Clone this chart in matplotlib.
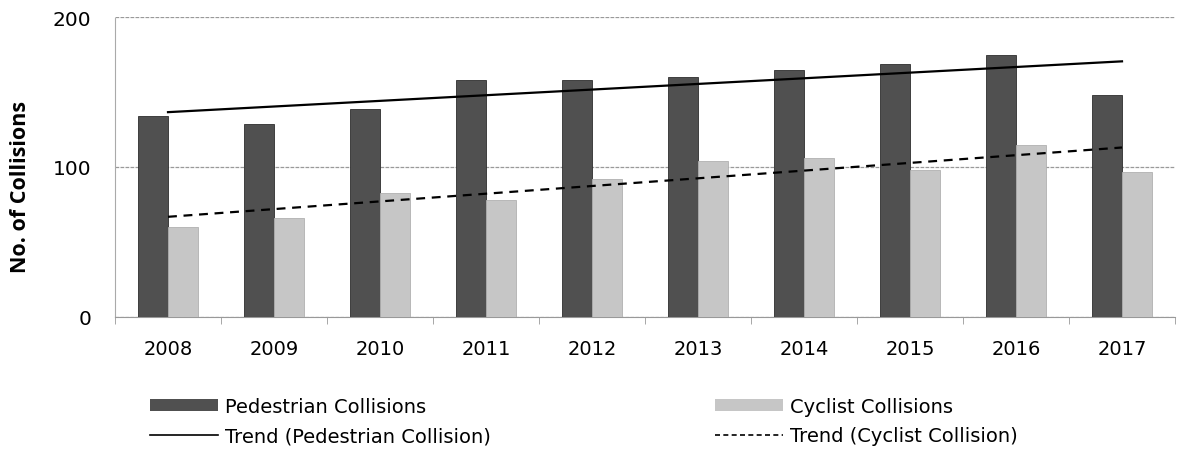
import matplotlib
matplotlib.use("Agg")
import matplotlib.pyplot as plt
import numpy as np
from matplotlib.lines import Line2D
from matplotlib.patches import Patch

years = ["2008", "2009", "2010", "2011", "2012", "2013", "2014", "2015", "2016", "2017"]
pedestrian = [134, 129, 139, 158, 158, 160, 165, 169, 175, 148]
cyclist = [60, 66, 83, 78, 92, 104, 106, 98, 115, 97]
yticks = [0, 100, 200]

plt.rcParams['font.family'] = ['DejaVu Sans']

W, H = 1179, 452
fig = plt.figure(figsize=(W / 100, H / 100), dpi=100)
ax = fig.add_axes([115 / W, 1 - 318 / H, 1060 / W, 300 / H])

x = np.arange(len(years))
w = 0.283
ped_color = "#505050"
cyc_color = "#c6c6c6"
ax.bar(x - w / 2, pedestrian, width=w, color=ped_color, edgecolor="#2e2e2e", linewidth=0.6, zorder=3)
ax.bar(x + w / 2, cyclist, width=w, color=cyc_color, edgecolor="#b0b0b0", linewidth=0.6, zorder=3)

# Linear trend lines (least squares, as in spreadsheet trendlines)
pp = np.polyfit(x, pedestrian, 1)
pc = np.polyfit(x, cyclist, 1)
ax.plot(x, np.polyval(pp, x), color="black", linewidth=1.6, zorder=4)
ax.plot(x, np.polyval(pc, x), color="black", linewidth=1.6, linestyle=(0, (4, 3)), zorder=4)

ax.set_xlim(-0.5, len(years) - 0.5)
ax.set_ylim(0, 200)
ax.set_yticks(yticks)
ax.set_yticklabels([str(t) for t in yticks], fontsize=14.5)
ax.set_xticks(x)
ax.set_xticklabels(years, fontsize=14)
ax.tick_params(axis="x", length=0, pad=16)
ax.tick_params(axis="y", length=0, pad=17)
ax.set_xticks(np.arange(-0.5, len(years), 1), minor=True)
ax.tick_params(axis="x", which="minor", length=5, color="#999999")

ax.yaxis.grid(True, color="#999999", linewidth=0.9, linestyle=(0, (3, 1)), zorder=0)
for s in ["top", "right"]:
    ax.spines[s].set_visible(False)
ax.spines["left"].set_color("#aaaaaa")
ax.spines["left"].set_linestyle((0, (2, 1)))
ax.spines["bottom"].set_color("#999999")

ax.set_ylabel("No. of Collisions", fontsize=15.5, fontweight="bold", family=["Open Sans", "DejaVu Sans"])
ax.yaxis.set_label_coords(-0.079, 0.437)

leg_kw = dict(frameon=False, fontsize=14, handlelength=3.5, handleheight=0.55,
              labelspacing=0.55, handletextpad=0.35, borderpad=0, borderaxespad=0,
              loc="center left")
h1 = [Patch(facecolor=ped_color, edgecolor="none"),
      Line2D([0], [0], color="black", linewidth=1.2)]
l1 = ["Pedestrian Collisions", "Trend (Pedestrian Collision)"]
h2 = [Patch(facecolor=cyc_color, edgecolor="none"),
      Line2D([0], [0], color="black", linewidth=1.2, linestyle=(0, (3, 2)))]
l2 = ["Cyclist Collisions", "Trend (Cyclist Collision)"]
fig.legend(h1, l1, bbox_to_anchor=(150 / W, 1 - 422 / H), **leg_kw)
fig.legend(h2, l2, bbox_to_anchor=(715 / W, 1 - 422 / H), **leg_kw)

fig.savefig("out.png", dpi=100)
